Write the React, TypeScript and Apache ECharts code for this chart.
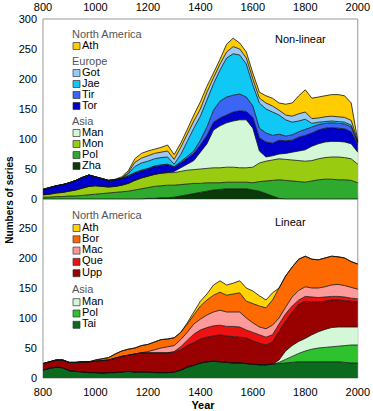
import { useEffect, useRef } from "react";
import * as echarts from "echarts";

// ---- categories (years) ----
const years = [
  "800", "825", "850", "875", "900", "925", "950", "975", "1000", "1025",
  "1050", "1075", "1100", "1125", "1150", "1175", "1200", "1225", "1250", "1275",
  "1300", "1325", "1350", "1375", "1400", "1425", "1450", "1475", "1500", "1525",
  "1550", "1575", "1600", "1625", "1650", "1675", "1700", "1725", "1750", "1775",
  "1800", "1825", "1850", "1875", "1900", "1925", "1950", "1975", "2000",
];

// ---- Non-linear panel: upper boundary (cumulative) of each layer, bottom to top ----
const nlZhaTop = [0,0,0,0,0,0,0,0,0,0, 0,0,0,0,0,0,1,1,2,2, 3,5,7,9,11,13,15,16,17,17, 17,17,15,13,9,5,1,0,0,0, 0,0,0,0,0,0,0,0,0];
const nlPolTop = [3,3,4,4,5,5,6,7,8,9, 10,11,12,13,15,17,19,21,22,23, 23,24,25,26,26,27,27,27,28,28, 28,28,27,29,30,31,32,31,30,29, 28,30,32,33,33,32,32,31,27];
const nlMonTop = [7,8,10,11,13,15,18,21,22,21, 20,21,23,26,31,35,38,41,43,44, 44,46,48,49,50,51,52,52,53,53, 52,52,53,60,63,65,67,66,65,64, 63,64,67,69,70,70,69,67,58];
const nlManTop = [7,8,10,11,13,15,18,21,22,21, 20,21,23,26,31,35,38,41,43,44, 46,52,58,64,78,92,115,122,127,130, 132,132,118,80,70,72,75,76,78,80, 82,88,92,95,96,96,95,92,78];
const nlTorTop = [16,19,22,24,27,31,36,40,37,34, 31,32,34,38,43,47,50,54,56,57, 53,60,68,76,90,106,128,135,140,145, 147,146,136,102,95,93,98,97,98,103, 106,110,115,118,119,118,117,112,90];
const nlTirTop = [16,19,22,24,27,31,36,40,37,34, 31,32,34,39,44,48,51,55,57,58, 54,62,71,80,98,120,148,163,170,173, 175,170,155,118,110,106,108,105,107,112, 116,120,124,126,127,126,125,120,93];
const nlJaeTop = [16,19,22,24,27,31,36,40,37,34, 31,32,35,42,54,60,63,67,69,70, 58,74,96,118,138,165,192,215,235,242, 240,225,190,160,150,145,140,132,128,130, 133,126,128,129,130,129,128,123,94];
const nlGotTop = [16,19,22,24,27,31,36,40,37,34, 31,32,35,44,61,68,72,76,78,80, 66,86,108,130,150,178,202,225,245,254, 250,235,200,168,160,155,148,140,138,142, 145,134,135,137,138,137,136,131,96];
const nlAthTop = [16,19,22,24,27,31,36,40,37,34, 31,33,37,47,67,76,80,83,86,90, 74,93,116,140,162,188,210,233,258,268, 260,245,210,178,172,168,160,158,160,172, 182,168,170,172,174,174,172,160,97];

// ---- Linear panel: upper boundary (cumulative) of each layer, bottom to top ----
const lnTaiTop = [13,16,18,17,12,11,10,9,9,8, 9,9,10,11,10,10,10,9,9,9, 10,13,18,21,25,27,28,27,26,25, 25,24,23,22,22,23,24,25,26,27, 27,27,27,27,27,27,26,25,25];
const lnPolTop = [13,16,18,17,12,11,10,9,9,8, 9,9,10,11,10,10,10,9,9,9, 10,13,18,21,25,27,28,27,26,25, 25,24,23,22,22,23,26,31,36,41, 45,48,50,51,52,53,54,55,55];
const lnManTop = [13,16,18,17,12,11,10,9,9,8, 9,9,10,11,10,10,10,9,9,9, 10,13,18,21,25,27,28,27,26,25, 25,24,23,22,22,23,30,45,54,61, 66,72,77,81,84,85,85,85,85];
const lnUppTop = [24,27,30,30,26,26,27,27,28,29, 30,33,36,38,40,42,42,42,42,42, 43,47,54,59,65,68,70,72,70,69, 68,67,62,58,55,60,78,95,110,123, 128,127,127,128,130,130,129,128,127];
const lnQueTop = [24,27,30,30,26,26,27,27,28,29, 30,33,36,38,40,42,42,42,42,42, 44,52,63,73,80,84,87,88,86,86, 85,80,76,72,68,72,90,107,120,130, 136,135,134,135,136,136,135,133,132];
const lnMacTop = [24,27,30,30,26,26,27,27,28,29, 30,33,36,38,40,42,44,47,50,52, 54,64,76,90,98,105,110,113,110,110, 110,100,92,85,82,88,100,118,135,146, 152,150,150,152,155,156,154,151,148];
const lnBorTop = [24,27,30,30,26,26,27,27,30,32, 34,40,45,48,50,54,56,60,64,65, 67,76,90,105,120,130,138,143,138,140, 142,128,124,120,117,130,150,170,185,198, 203,198,197,200,203,202,200,194,190];
const lnAthTop = [24,27,30,30,26,26,27,27,30,32, 34,40,45,48,50,54,56,60,64,65, 67,76,92,110,128,140,155,162,155,158, 162,150,145,137,130,142,150,170,185,198, 203,198,197,200,203,202,200,194,190];

// ---- tick labels ----
const yTicks = [0, 50, 100, 150, 200, 250, 300];

// ---- layer definitions (bottom to top) ----
const nlNames = ["Zha", "Pol", "Mon", "Man", "Tor", "Tir", "Jae", "Got", "Ath"];
const nlColors = ["#0a3a0a", "#2eaa2e", "#99cc11", "#d4f7d8", "#0000c8", "#3c64f5", "#10c8f5", "#9cc8f5", "#ffcc00"];
const nlBounds = [nlZhaTop, nlPolTop, nlMonTop, nlManTop, nlTorTop, nlTirTop, nlJaeTop, nlGotTop, nlAthTop];

const lnNames = ["Tai", "Pol", "Man", "Upp", "Que", "Mac", "Bor", "Ath"];
const lnColors = ["#0b6a1e", "#2ec22e", "#d4f7d8", "#990000", "#ee1111", "#ff9a9a", "#ff6a00", "#ffd400"];
const lnBounds = [lnTaiTop, lnPolTop, lnManTop, lnUppTop, lnQueTop, lnMacTop, lnBorTop, lnAthTop];

// ---- legend groups ----
const nlLegend = [
  { heading: "North America", items: ["Ath"] },
  { heading: "Europe", items: ["Got", "Jae", "Tir", "Tor"] },
  { heading: "Asia", items: ["Man", "Mon", "Pol", "Zha"] },
];
const lnLegend = [
  { heading: "North America", items: ["Ath", "Bor", "Mac", "Que", "Upp"] },
  { heading: "Asia", items: ["Man", "Pol", "Tai"] },
];

const FONT = "'Liberation Sans', Arial, Helvetica, sans-serif";

function layersFrom(bounds: number[][]) {
  return bounds.map((b, k) => b.map((v, i) => v - (k > 0 ? bounds[k - 1][i] : 0)));
}

function buildSeries(names: string[], colors: string[], bounds: number[][], idx: number) {
  const layers = layersFrom(bounds);
  return names.map((n, k) => ({
    name: n + (idx === 0 ? " (non-linear)" : " (linear)"),
    type: "line",
    xAxisIndex: idx,
    yAxisIndex: idx,
    stack: "s" + idx,
    data: layers[k],
    showSymbol: false,
    symbol: "none",
    lineStyle: { color: "#111", width: 0.8 },
    areaStyle: { color: colors[k], opacity: 1 },
    z: 2,
  }));
}

function buildLegend(
  groups: { heading: string; items: string[] }[],
  names: string[],
  colors: string[],
  startY: number,
  headGap: number,
  pitch: number,
  groupGap: number
) {
  const els: any[] = [];
  let y = startY;
  groups.forEach((g, gi) => {
    if (gi > 0) y += groupGap;
    els.push({
      type: "text",
      left: 72,
      top: y - 7,
      style: { text: g.heading, fill: "#555", font: "11px " + FONT },
    });
    y += headGap;
    g.items.forEach((it, ii) => {
      if (ii > 0) y += pitch;
      const c = colors[names.indexOf(it)];
      els.push({
        type: "rect",
        shape: { x: 73, y: y - 3.5, width: 7, height: 7 },
        style: { fill: c, stroke: "#333", lineWidth: 0.7 },
      });
      els.push({
        type: "text",
        left: 82,
        top: y - 7,
        style: { text: it, fill: "#000", font: "11px " + FONT },
      });
    });
  });
  return els;
}

export default function App() {
  const ref = useRef<HTMLDivElement>(null);
  useEffect(() => {
    if (!ref.current) return;
    const chart = echarts.init(ref.current, null, { renderer: "svg" });
    const axisLabelBase = { color: "#000", fontSize: 11, fontFamily: FONT };
    const xBase = {
      type: "category",
      data: years,
      boundaryGap: false,
      axisTick: { show: false },
      axisLine: { show: false },
      splitLine: { show: false },
    };
    const yBase = {
      type: "value",
      min: yTicks[0],
      max: yTicks[yTicks.length - 1],
      interval: 50,
      axisTick: { show: false },
      axisLine: { show: false },
      splitLine: { show: false },
    };
    const option: any = {
      animation: false,
      backgroundColor: "#fff",
      grid: [
        { left: 43, top: 19, width: 320, height: 180, show: true, borderColor: "#999", borderWidth: 1, backgroundColor: "transparent" },
        { left: 43, top: 198, width: 320, height: 180, show: true, borderColor: "#999", borderWidth: 1, backgroundColor: "transparent" },
      ],
      xAxis: [
        { ...xBase, gridIndex: 0, position: "top", axisLabel: { ...axisLabelBase, interval: 7, margin: 7 } },
        { ...xBase, gridIndex: 1, position: "bottom", axisLabel: { ...axisLabelBase, interval: 7, margin: 8 } },
      ],
      yAxis: [
        { ...yBase, gridIndex: 0, axisLabel: { ...axisLabelBase, margin: 6 } },
        {
          ...yBase,
          gridIndex: 1,
          axisLabel: { ...axisLabelBase, margin: 6, formatter: (v: number) => (v === 300 ? "" : String(v)) },
        },
      ],
      series: [
        ...buildSeries(nlNames, nlColors, nlBounds, 0),
        ...buildSeries(lnNames, lnColors, lnBounds, 1),
      ],
      graphic: [
        ...buildLegend(nlLegend, nlNames, nlColors, 35, 11, 11, 16),
        ...buildLegend(lnLegend, lnNames, lnColors, 216, 12, 11.3, 17),
        { type: "text", left: 275, top: 33, style: { text: "Non-linear", fill: "#000", font: "11px " + FONT } },
        { type: "text", left: 275, top: 216, style: { text: "Linear", fill: "#000", font: "11px " + FONT } },
        {
          type: "text",
          x: 9,
          y: 200,
          rotation: Math.PI / 2,
          style: { text: "Numbers of series", fill: "#000", font: "bold 10px " + FONT, textAlign: "center", textVerticalAlign: "middle" },
        },
        {
          type: "text",
          x: 203,
          y: 405,
          style: { text: "Year", fill: "#000", font: "bold 11px " + FONT, textAlign: "center", textVerticalAlign: "middle" },
        },
      ],
    };
    chart.setOption(option);
    return () => chart.dispose();
  }, []);
  return <div ref={ref} style={{ position: "fixed", left: 0, top: 0, width: 373, height: 411 }} />;
}
